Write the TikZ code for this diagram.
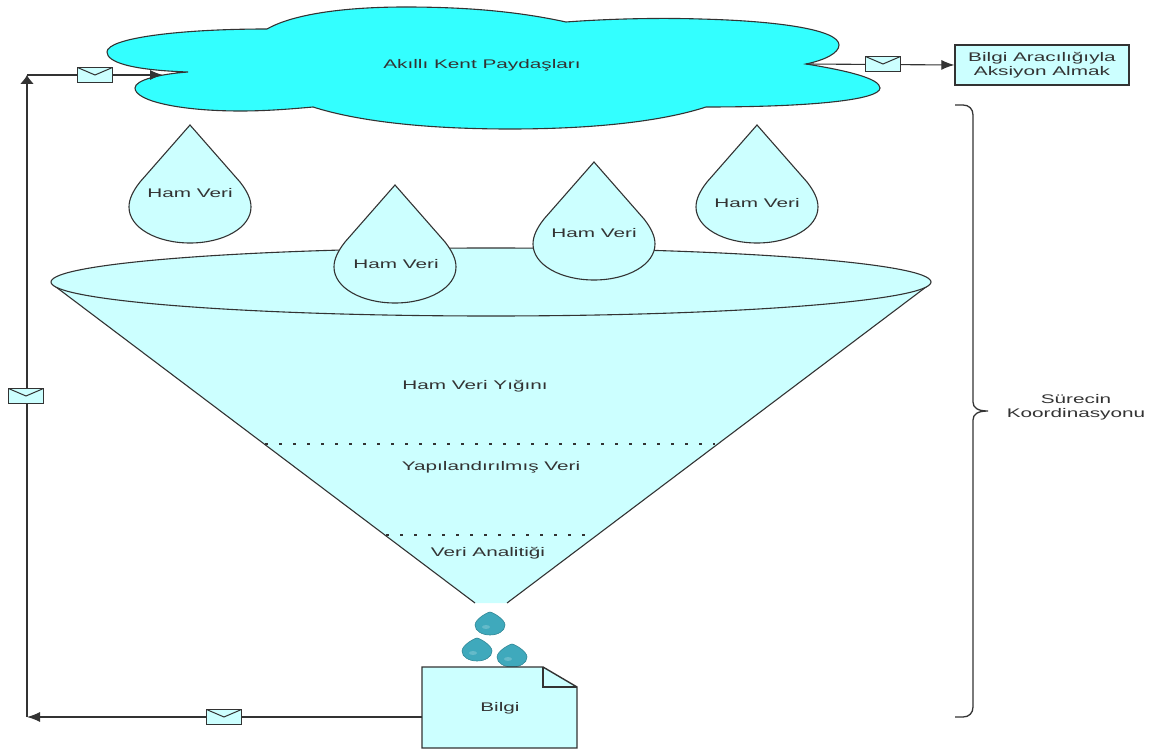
\documentclass[tikz,border=0pt]{standalone}
\usepackage{fontspec}
\setmainfont[FakeStretch=1.66]{Liberation Sans}
\usetikzlibrary{arrows.meta}
\definecolor{paleblue}{HTML}{CCFFFF}
\definecolor{cloudblue}{HTML}{33FFFF}
\definecolor{dropteal}{HTML}{3FA9BC}
\definecolor{inkgray}{HTML}{333333}
\tikzset{
  line/.style={line width=1.1pt,draw=inkgray},
  flow/.style={line,-{Latex[length=13pt,width=10pt]}},
  flowup/.style={line width=1.4pt,draw=inkgray,-{Latex[length=9pt,width=14pt]}},
  lbl/.style={text=inkgray,font=\fontsize{12.5}{14}\selectfont,align=center,inner sep=0},
  mail/.style={draw=inkgray,line width=1.4pt,fill=paleblue,minimum width=35pt,minimum height=15pt,inner sep=0,
    path picture={\draw[line width=1pt,draw=inkgray] (path picture bounding box.north west) -- (path picture bounding box.center) -- (path picture bounding box.north east);}},
  dots/.style={draw=inkgray,line width=2pt,dash pattern=on 3pt off 11pt},
  drop/.pic={
    \path[pic actions] (0,0) -- (-50,57) .. controls (-57,66) and (-61,74) .. (-61,82)
      .. controls (-61,103) and (-33,118) .. (0,118)
      .. controls (33,118) and (61,103) .. (61,82)
      .. controls (61,74) and (57,66) .. (50,57) -- cycle;
  },
  smalldrop/.pic={
    \path[pic actions] (0,0) .. controls (2,0) and (15,7) .. (15,13)
      .. controls (15,19) and (8,23) .. (0,23)
      .. controls (-8,23) and (-15,19) .. (-15,13)
      .. controls (-15,7) and (-2,0) .. (0,0) -- cycle;
  },
  rawdrop/.style={draw=inkgray,line width=1.1pt,fill=paleblue},
  tinydrop/.style={draw=dropteal!80!black,line width=.6pt,fill=dropteal}
}
\begin{document}
\begin{tikzpicture}[x=1pt,y=-1pt]
    \useasboundingbox (0,0) rectangle (1151,751);

    % cloud
    \draw[line,fill=cloudblue] (188,72) .. controls (130,70) and (107,62) .. (107,52)
      .. controls (107,38) and (180,29) .. (267,29)
      .. controls (295,13) and (350,7) .. (405,7)
      .. controls (470,7) and (520,12) .. (566,22)
      .. controls (620,18) and (670,18) .. (700,19)
      .. controls (780,21) and (839,30) .. (839,45)
      .. controls (839,53) and (825,60) .. (806,64)
      .. controls (850,71) and (880,79) .. (880,88)
      .. controls (880,100) and (810,107) .. (706,107)
      .. controls (660,122) and (590,129) .. (510,129)
      .. controls (430,129) and (360,122) .. (313,107)
      .. controls (280,110) and (260,111) .. (240,111)
      .. controls (180,111) and (135,101) .. (135,88)
      .. controls (135,80) and (160,74) .. (188,72) -- cycle;
    \coordinate (cloudin) at (163,75);
    \coordinate (cloudout) at (806,64);
    \node[lbl] (cloudtxt) at (482,65) {Akıllı Kent Paydaşları};

    % funnel
    \fill[paleblue] (52,284) -- (475,603) -- (507,603) -- (930,284) -- cycle;
    \draw[line] (52,284) -- (475,603);
    \draw[line] (930,284) -- (507,603);
    \draw[line,fill=paleblue] (491,282) ellipse (440 and 34);
    \draw[dots] (265,444) -- (715,444);
    \draw[dots] (386,535) -- (586,535);
    \node[lbl] (heap) at (475,386) {Ham Veri Yığını};
    \node[lbl] (structured) at (491,467) {Yapılandırılmış Veri};
    \node[lbl] (analytics) at (488,553) {Veri Analitiği};

    % raw data drops
    \pic[rawdrop] at (190,125) {drop};
    \pic[rawdrop] at (395,185) {drop};
    \pic[rawdrop] at (594,162) {drop};
    \pic[rawdrop] at (757,125) {drop};
    \node[lbl] (raw1) at (190,193) {Ham Veri};
    \node[lbl] (raw2) at (396,264) {Ham Veri};
    \node[lbl] (raw3) at (594,233) {Ham Veri};
    \node[lbl] (raw4) at (757,203) {Ham Veri};

    % small drops
    \foreach \dx/\dy in {490/612,477/638,512/644}{
      \pic[tinydrop] at (\dx,\dy) {smalldrop};
      \fill[white,opacity=.2] (\dx-4,\dy+15) ellipse (4 and 2);
    }

    % document
    \draw[line,line width=1.4pt,fill=paleblue] (422,667) -- (543,667) -- (577,687) -- (577,748) -- (422,748) -- cycle;
    \draw[line,line width=1.4pt] (543,667) -- (543,687) -- (577,687);
    \node[lbl] (info) at (500,708) {Bilgi};
    \coordinate (infoout) at (422,717);

    % action box
    \node[lbl,draw=inkgray,line width=1.2pt,fill=paleblue,minimum width=174pt,minimum height=40pt] (action) at (1042,65) {Bilgi Aracılığıyla\\Aksiyon Almak};

    % connectors
    \coordinate (cornerbot) at (27,717);
    \coordinate (cornertop) at (27,75);
    \draw[flow] (infoout) -- (cornerbot);
    \draw[flowup] (cornerbot) -- (cornertop);
    \draw[flow] (cornertop) -- (cloudin);
    \draw[flow] (cloudout) -- (action.west);

    \node[mail] (mail1) at (95,75) {};
    \node[mail] (mail2) at (26,396) {};
    \node[mail] (mail3) at (224,717) {};
    \node[mail] (mail4) at (883,64) {};

    % brace
    \draw[line,line width=1.3pt] (955,105) -- (963,105) .. controls (969,105) and (973,109) .. (973,115)
      -- (973,402) .. controls (973,408) and (978,411) .. (988,411)
      .. controls (978,411) and (973,414) .. (973,420)
      -- (973,707) .. controls (973,713) and (969,717) .. (963,717) -- (955,717);
    \node[lbl] (coord) at (1076,407) {Sürecin\\Koordinasyonu};
  \end{tikzpicture}
\end{document}
